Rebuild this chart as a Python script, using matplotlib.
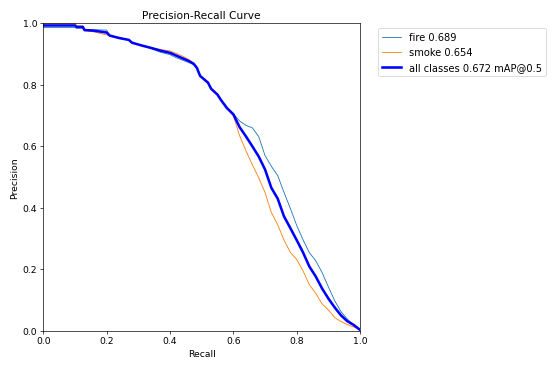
import matplotlib
matplotlib.use("Agg")
import matplotlib.pyplot as plt

recall = [0, 0.1, 0.105, 0.125, 0.13, 0.16, 0.2, 0.21, 0.24, 0.27, 0.28, 0.31, 0.34, 0.37,
          0.40, 0.42, 0.44, 0.46, 0.475, 0.485, 0.495, 0.52, 0.53, 0.55, 0.56, 0.58, 0.60,
          0.62, 0.64, 0.66, 0.68, 0.70, 0.72, 0.74, 0.76, 0.78, 0.80, 0.82, 0.84, 0.86,
          0.88, 0.90, 0.92, 0.94, 0.96, 0.98, 1.0]

fire = [0.986, 0.986, 0.984, 0.984, 0.980, 0.979, 0.978, 0.960, 0.953, 0.946, 0.938, 0.928,
        0.918, 0.906, 0.898, 0.888, 0.880, 0.872, 0.866, 0.855, 0.828, 0.806, 0.787, 0.768,
        0.752, 0.726, 0.706, 0.682, 0.668, 0.660, 0.632, 0.570, 0.535, 0.505, 0.450, 0.398,
        0.343, 0.296, 0.254, 0.228, 0.190, 0.143, 0.098, 0.062, 0.038, 0.019, 0.003]

smoke = [1.000, 1.000, 0.992, 0.992, 0.976, 0.972, 0.962, 0.960, 0.951, 0.946, 0.936, 0.928,
         0.921, 0.915, 0.910, 0.902, 0.893, 0.882, 0.870, 0.856, 0.830, 0.808, 0.787, 0.768,
         0.752, 0.722, 0.700, 0.634, 0.585, 0.540, 0.498, 0.450, 0.385, 0.345, 0.295, 0.255,
         0.232, 0.195, 0.150, 0.122, 0.088, 0.068, 0.043, 0.030, 0.020, 0.012, 0.003]

all_classes = [0.993, 0.993, 0.988, 0.988, 0.978, 0.976, 0.970, 0.960, 0.952, 0.946, 0.937,
               0.928, 0.920, 0.911, 0.904, 0.895, 0.886, 0.877, 0.868, 0.855, 0.829, 0.807,
               0.787, 0.768, 0.752, 0.724, 0.704, 0.662, 0.632, 0.600, 0.567, 0.525, 0.465,
               0.430, 0.372, 0.334, 0.295, 0.255, 0.209, 0.177, 0.138, 0.105, 0.076, 0.050,
               0.031, 0.019, 0.003]

labels = ["fire 0.689", "smoke 0.654", "all classes 0.672 mAP@0.5"]

plt.rcParams["font.size"] = 10.8

fig, ax = plt.subplots(figsize=(9, 6), dpi=553 / 9)
fig.subplots_adjust(left=0.0783, right=0.651, bottom=0.101, top=0.935)
ax.plot(recall, fire, linewidth=1, label=labels[0])
ax.plot(recall, smoke, linewidth=1, label=labels[1])
ax.plot(recall, all_classes, linewidth=3, color="blue", label=labels[2])
ax.set_xlabel("Recall")
ax.set_ylabel("Precision")
ax.set_xlim(0, 1)
ax.set_ylim(0, 1)
ax.legend(bbox_to_anchor=(1.04, 1), loc="upper left", fontsize=11.6)
ax.set_title("Precision-Recall Curve", fontsize=12.4)
fig.savefig("out.png", dpi=553 / 9)
